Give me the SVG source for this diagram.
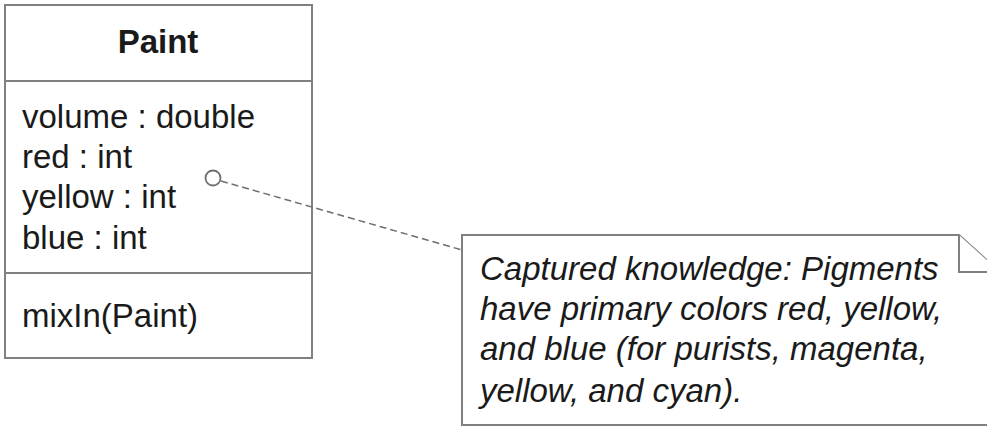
<svg xmlns="http://www.w3.org/2000/svg" width="987" height="427" viewBox="0 0 987 427">
<style>
.box{fill:#fff;stroke:#808080;stroke-width:2}
.t{font-family:"Liberation Sans",Arial,sans-serif;font-size:33px;fill:#1a1a1a}
.b{font-weight:bold;text-anchor:middle}
.i{font-style:italic}
.dash{fill:none;stroke:#6e6e6e;stroke-width:1.5;stroke-dasharray:7,4}
</style>
<rect width="987" height="427" fill="#fff"/>
<g id="Paint">
<rect class="box" x="5" y="5" width="307" height="353"/>
<line class="box" x1="5" y1="81" x2="312" y2="81"/>
<line class="box" x1="5" y1="273" x2="312" y2="273"/>
<text class="t b" x="158" y="53">Paint</text>
<text class="t" x="22" y="128">volume : double</text>
<text class="t" x="22" y="168">red : int</text>
<text class="t" x="22" y="208">yellow : int</text>
<text class="t" x="22" y="249">blue : int</text>
<text class="t" x="22" y="327">mixIn(Paint)</text>
</g>
<g id="note">
<path class="box" d="M462,235 H959 L1000,272 V425 H462 Z"/>
<path class="box" fill="none" d="M959,235 V272 H1000"/>
<text class="t i" x="480" y="280">Captured knowledge: Pigments</text>
<text class="t i" x="480" y="320">have primary colors red, yellow,</text>
<text class="t i" x="480" y="360">and blue (for purists, magenta,</text>
<text class="t i" x="480" y="402">yellow, and cyan).</text>
</g>
<g id="connectors">
<line class="dash" x1="221" y1="181" x2="462" y2="250"/>
<circle cx="213" cy="178" r="7.5" fill="#fff" stroke="#6e6e6e" stroke-width="1.8"/>
</g>
</svg>
